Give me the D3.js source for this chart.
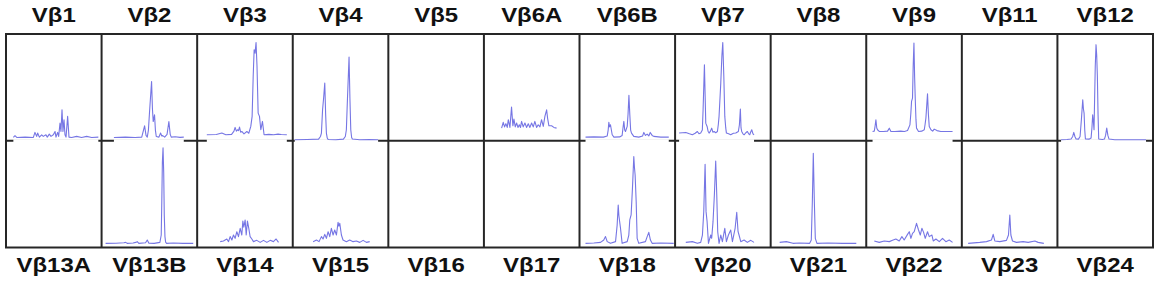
<!DOCTYPE html>
<html>
<head>
<meta charset="utf-8">
<script src="https://cdn.jsdelivr.net/npm/d3@7"></script>
<style>
  body { margin: 0; background: #fff; }
  svg { display: block; }
</style>
</head>
<body>
<svg width="1159" height="281"></svg>
<script>
// labels above the top row and below the bottom row
const topLabels = ['Vβ1', 'Vβ2', 'Vβ3', 'Vβ4', 'Vβ5', 'Vβ6A', 'Vβ6B', 'Vβ7', 'Vβ8', 'Vβ9', 'Vβ11', 'Vβ12'];
const bottomLabels = ['Vβ13A', 'Vβ13B', 'Vβ14', 'Vβ15', 'Vβ16', 'Vβ17', 'Vβ18', 'Vβ20', 'Vβ21', 'Vβ22', 'Vβ23', 'Vβ24'];

// spectratype traces, [position % of panel width, signal % of panel height]
const vb1 = [[7.7,3.1],[9.4,4.7],[11.2,3.1],[20,3.4],[28.6,3.1],[30.3,7.8],[32.1,4.1],[33.1,7.2],[34.9,3.4],[37.3,5.6],[39,4.1],[41.8,5.6],[43.2,3.4],[45.3,6.2],[47.1,4.1],[49.5,5.6],[51.3,8.7],[52.3,3.4],[54,7.8],[55.1,4.1],[56.5,16.5],[57.5,8.7],[58.6,29],[59.6,8.7],[60.7,19.7],[61.7,5.6],[62.8,3.4],[64.5,22.8],[65.9,3.4],[68.7,3.1],[73.9,4.1],[79.1,3.1],[84.4,4.1],[89.6,3.1],[96.6,3.4]];
const vb2 = [[12.9,3.1],[25,3.4],[35,3.1],[42,3.4],[45,14],[46.5,5],[47.8,3.4],[49,10],[50.2,27.4],[52.3,55.5],[53.2,30],[54,18],[55.4,24.3],[56.3,10],[57.2,4],[60,3.4],[61.7,7.2],[63,4.5],[64,4.8],[66,3.4],[68.5,6],[70.4,18],[71.8,6],[72.9,3.4],[77,3.8],[82,3.2],[86,3.4]];
const vb3 = [[10.1,5.6],[20,5.9],[25.8,7.2],[30,5.6],[36,6],[38.5,9],[39.7,12.5],[41,9],[42.2,10.3],[43.3,9.5],[44.3,12.8],[45.5,8],[46.7,8.7],[49,6.5],[52,8.7],[54,7],[56.1,13.4],[57.5,22.8],[58.6,60],[59.6,85.3],[60.6,82.1],[61.6,92.1],[62.6,70],[63.8,25.9],[65.2,22.8],[66.6,10.3],[68.3,18.1],[70,5.6],[75,6],[80,5.6],[84.6,6.2],[88,5.8],[93.8,5.6]];
const vb4 = [[2.1,1],[15,1.2],[27,1.5],[29,4],[30,7.2],[31.2,29],[32.3,40],[33.5,54],[34.4,25],[35.2,7.2],[36.1,2.5],[37,1.2],[45,1],[53,1.5],[55,4],[56.1,10.3],[57.2,38.4],[58.9,78.4],[59.8,40],[60.7,10.3],[61.6,3],[62.4,1.6],[70,1],[80,1.2],[89.3,1]];
const vb6a = [[18.5,11.8],[20.2,17.2],[21.6,13],[23,16],[24.4,12.5],[25.5,19.7],[27.2,12.5],[28.9,31.5],[30.3,14],[31.4,20.3],[32.8,13],[34.2,16.6],[35.6,12.5],[37,15],[38.3,12.5],[39.4,18.1],[41.1,13],[42.9,16.6],[44.6,12.5],[46.4,15.9],[48.1,12.5],[49.9,16.6],[51.6,13],[53.3,18.1],[55.1,12.5],[56.8,15],[58.6,13],[60.3,19.7],[62.1,13.5],[63.8,22.8],[65.6,29],[66.6,21.2],[68,14],[70.8,14.1],[73.2,12.5],[76,11.8]];
const vb6b = [[6.3,3.4],[15,3.6],[25,3.4],[29,4.5],[30,10],[30.7,17.2],[31.5,13],[32.4,15],[34.2,5.6],[36,3.4],[42,3.6],[44.6,5],[45.5,12],[46.4,18.1],[47.3,10],[48.1,8.7],[49.9,13.4],[50.8,25],[51.7,42.5],[52.6,25],[53.5,10],[54.4,7.2],[56.8,4.1],[62,3.4],[66,4.5],[67.3,7.8],[69,5],[70.8,6.2],[72.5,4.5],[74,7.8],[76,5],[77.7,4.1],[85,3.4],[93.4,3.4]];
const vb7 = [[4.2,7.2],[11.2,7.8],[15,6.5],[18.1,5.6],[21,7],[23.3,8.7],[25,6.5],[26.8,7.2],[28.5,10],[29.3,29],[30.7,71.2],[31.5,40],[32.1,16.5],[33.5,13.4],[34.5,9],[35.6,7.2],[37,9],[38.3,11.8],[39.5,8],[40.8,8.7],[42.5,7.5],[44.3,8.7],[45.2,15],[46,22.8],[47,40],[47.8,54],[49,80],[49.9,92.1],[51,60],[52,22.8],[53,12],[53.7,7.2],[56,6.5],[58.2,5.6],[61,7],[63.5,7.2],[66.2,8.7],[67.3,15],[68.3,29.7],[69,12],[69.7,8.7],[71,6.5],[72.2,5.6],[74,7.5],[75.6,8.7],[77,6.5],[78.1,5.6],[79,8],[80.2,10.3],[81.5,6.5],[82.6,5.6]];
const vb9 = [[6.6,8.7],[8.4,9],[9.3,14],[10.1,19.7],[11,12],[11.8,10.3],[13.6,8.7],[18,8.7],[22.3,9],[24.1,11.8],[25.8,8.7],[30,8.7],[36,9],[40,8.7],[43.2,9.6],[45.7,14.9],[46.6,25],[47.4,36.9],[48.4,40],[49.1,70],[49.9,91.5],[50.6,60],[51.3,38.4],[52,20],[52.6,11.8],[54.7,8.7],[58,9],[60.7,10.3],[61.5,15],[62.4,21.2],[63.2,32],[64.1,44],[65,25],[65.9,13.4],[67.7,10.3],[69.5,9],[71.1,10.9],[74,9.5],[78,8.7],[85,8.7],[90.3,8.7]];
const vb12 = [[3.8,0.9],[10,1.2],[14.3,1.6],[16,4],[17.1,7.8],[18.3,4],[19.5,1.6],[22,1.5],[23.7,4],[25.1,20],[26.5,38.4],[27.2,30],[27.9,25.9],[28.6,10],[29.3,1.6],[33,1.5],[35.2,2.5],[36.1,12],[36.9,24.3],[37.6,18],[38.3,10.3],[38.9,38.4],[39.6,70],[40.4,90],[41.1,80],[41.8,60.3],[42.5,25],[43.2,1.6],[47,1.2],[49.2,1.6],[50.4,5],[51.6,11.8],[52.8,5],[54,1.6],[60,1],[70,0.9],[80,1],[92.7,0.9]];
const vb13b = [[4.2,3.9],[15,4],[23.3,4.5],[25.1,4.8],[26.8,3.9],[33,4.2],[35.6,4.8],[37.3,5.5],[39,3.9],[46,4.5],[47.8,7],[49.5,4],[55,3.9],[61,4.8],[62.4,11.7],[63,43],[63.6,80],[64.3,93.5],[65,70],[65.6,30],[66.3,10.2],[67,5],[68,3.9],[75,4.2],[85,3.9],[95.9,3.9]];
const vb14 = [[24.1,5.5],[27.5,6.1],[31,8],[32.8,5.5],[34.5,10.2],[36.3,7],[38,11.7],[39.7,8.6],[41.5,14.8],[43.2,10.2],[45,18],[46.7,11.7],[47.8,24.8],[48.8,19],[50.2,25.8],[51.3,11.7],[52.6,24.8],[54,18],[55.4,10.2],[57.2,8],[58.9,5.5],[62.4,6.7],[65.9,4.8],[69.4,6.7],[72.9,4.8],[76.4,6.7],[79.8,5.5],[82.6,8],[85.1,4.8]];
const vb15 = [[21.3,5.5],[24.8,7],[27.5,5.5],[30,10.2],[31.7,8],[33.5,12.3],[35.2,8.6],[37,14.8],[38.7,10.2],[40.4,18],[42.2,11.7],[43.9,16.4],[45.7,11.7],[47.4,23.6],[48.3,20],[49.2,22.6],[50.9,11.7],[52.6,7],[56.1,5.5],[59.6,7],[63.1,5.5],[66.6,6.1],[70.1,4.8],[73.6,6.7],[77.1,4.8],[80.5,5.5]];
const vb18 = [[6.3,3.9],[15,4.2],[22,4.8],[25.4,7],[27.2,10.2],[29,5.5],[32.4,3.9],[37.7,5.5],[39.4,21.1],[40.5,39.8],[41.2,30],[41.8,25.8],[42.9,18],[44.6,3.9],[49.9,5.5],[51.6,11.7],[52.6,25.8],[54,30.5],[55.4,55.4],[56.8,85.1],[57.5,75],[58.2,67.9],[59.3,42.9],[60.3,8.6],[62,3.9],[69,5.5],[70.8,10.2],[72.5,14.2],[74.2,7],[76,3.9],[85,4.2],[98.6,3.9]];
const vb20 = [[11.2,4.8],[18.1,5.5],[23.3,3.9],[26.8,4.8],[28.6,11.7],[30,33.6],[31.4,77.9],[32.4,33.6],[33.5,24.2],[34.9,3.9],[37.3,11.7],[38.3,8.6],[39.7,24.2],[41.1,49.2],[42.5,81],[43.6,49.2],[44.6,14.8],[46,3.9],[47.8,11.7],[49.5,5.5],[52,18],[53.7,5.5],[55.8,11.7],[58.2,16.4],[60,5.5],[62.8,18],[64.5,33],[65.9,14.8],[66.9,11.7],[68.7,5.5],[72.2,7],[75.6,4.8],[79.2,6.7],[82.6,4.8]];
const vb21 = [[9.4,4.8],[16.4,5.5],[23.3,3.9],[30,4.2],[40.8,3.9],[42.5,7],[43.6,42.9],[44.6,88.2],[45.7,42.9],[46.7,8.6],[48.4,3.9],[60,4.2],[75,3.9],[89.6,3.9]];
const vb22 = [[8.4,6.1],[13.6,4.8],[18.8,6.1],[24.1,5.5],[27.5,6.7],[31,8],[34.5,6.1],[37.3,10.2],[39.7,7],[43.2,12.3],[45,14.8],[46.7,8.6],[48.4,13.3],[50.2,14.8],[52.6,22.6],[54.7,16.4],[56.5,11.7],[58.2,18],[60,14.2],[61.7,8.6],[64.1,14.8],[65.9,10.2],[68.7,11.7],[70.1,6.1],[72.9,8],[76.4,5.5],[79.8,8.6],[83.3,5.5],[86.8,7],[90.3,4.8]];
const vb23 = [[6.6,3.9],[18.8,4.8],[25.8,5.5],[31,7],[32.8,12.3],[34.5,6.1],[39.7,5.5],[46.7,6.7],[48.8,11.7],[50.2,30.5],[51.3,11.7],[53,6.1],[57.2,4.8],[64.1,5.5],[69.4,4.8],[76.4,6.1],[79.8,4.8],[85.8,3.9]];

// panels without a trace are left empty
const topTraces = [vb1, vb2, vb3, vb4, null, vb6a, vb6b, vb7, null, vb9, null, vb12];
const bottomTraces = [null, vb13b, vb14, vb15, null, null, vb18, vb20, vb21, vb22, vb23, null];

const svg = d3.select('svg');

const col = d3.scaleBand().domain(d3.range(12)).range([6, 1153]);
const row = d3.scaleBand().domain([0, 1]).range([34, 247.5]);

const gridColor = '#262626';
const traceColor = '#7676e4';

// grid
const grid = svg.append('g')
  .attr('fill', 'none')
  .attr('stroke', gridColor)
  .attr('stroke-width', 2);

grid.append('rect')
  .attr('x', col(0))
  .attr('y', row(0))
  .attr('width', col(11) + col.bandwidth() - col(0))
  .attr('height', row(1) + row.bandwidth() - row(0));

grid.selectAll('line.v')
  .data(d3.range(1, 12))
  .enter().append('line')
  .attr('class', 'v')
  .attr('x1', d => col(d)).attr('x2', d => col(d))
  .attr('y1', row(0)).attr('y2', row(1) + row.bandwidth());

grid.append('line')
  .attr('x1', col(0)).attr('x2', col(11) + col.bandwidth())
  .attr('y1', row(1)).attr('y2', row(1));

// traces
const cells = [];
topTraces.forEach((t, i) => cells.push({ r: 0, c: i, trace: t }));
bottomTraces.forEach((t, i) => cells.push({ r: 1, c: i, trace: t }));

const lineGen = d3.line();

cells.filter(d => d.trace).forEach(d => {
  const x = d3.scaleLinear().domain([0, 100]).range([col(d.c), col(d.c) + col.bandwidth()]);
  const y = d3.scaleLinear().domain([0, 100]).range([row(d.r) + row.bandwidth(), row(d.r)]);
  const g = svg.append('g');

  // the pasted trace pictures hide the line under the top row
  if (d.r === 0 && d3.min(d.trace, p => p[1]) < 10) {
    const x0 = x(d.trace[0][0]);
    const x1 = x(d.trace[d.trace.length - 1][0]);
    g.append('rect')
      .attr('x', x0)
      .attr('y', y(0) - 1.5)
      .attr('width', x1 - x0)
      .attr('height', 3.5)
      .attr('fill', '#fff');
  }

  g.append('path')
    .attr('d', lineGen.x(p => x(p[0])).y(p => y(p[1]))(d.trace))
    .attr('fill', 'none')
    .attr('stroke', traceColor)
    .attr('stroke-width', 1.1)
    .attr('stroke-linejoin', 'round');
});

// labels
const labelStyle = sel => sel
  .attr('text-anchor', 'middle')
  .attr('font-family', '"Liberation Sans", Arial, sans-serif')
  .attr('font-weight', 'bold')
  .attr('font-size', 21)
  .attr('fill', '#111');

svg.append('g').selectAll('text')
  .data(topLabels)
  .enter().append('text')
  .attr('transform', (d, i) => `translate(${col(i) + col.bandwidth() / 2},22) scale(1.14,1)`)
  .text(d => d)
  .call(labelStyle);

svg.append('g').selectAll('text')
  .data(bottomLabels)
  .enter().append('text')
  .attr('transform', (d, i) => `translate(${col(i) + col.bandwidth() / 2},271.5) scale(1.14,1)`)
  .text(d => d)
  .call(labelStyle);
</script>
</body>
</html>
